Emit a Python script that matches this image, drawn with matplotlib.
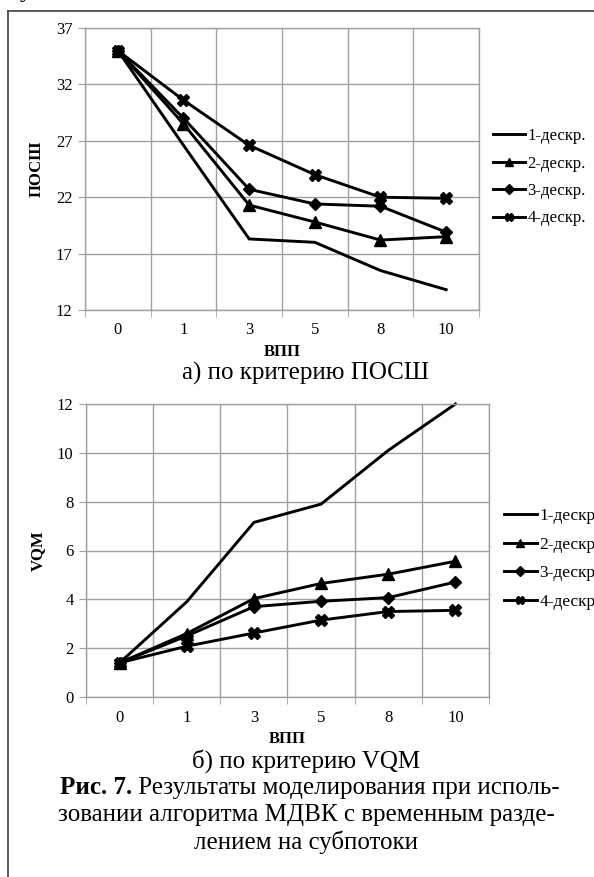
import matplotlib
matplotlib.use("Agg")
import matplotlib.pyplot as plt
from matplotlib.lines import Line2D

W, H = 594, 877
categories = ["0", "1", "3", "5", "8", "10"]
series_names = ["1-дескр.", "2-дескр.", "3-дескр.", "4-дескр."]

posh_1 = [35.0, 26.6, 18.3, 18.0, 15.5, 13.8]
posh_2 = [35.0, 28.5, 21.3, 19.8, 18.2, 18.5]
posh_3 = [35.0, 29.0, 22.7, 21.4, 21.2, 18.9]
posh_4 = [35.0, 30.6, 26.6, 24.0, 22.0, 21.9]

vqm_1 = [1.4, 3.9, 7.15, 7.9, 10.1, 12.0]
vqm_2 = [1.4, 2.6, 4.03, 4.65, 5.03, 5.56]
vqm_3 = [1.4, 2.5, 3.7, 3.92, 4.07, 4.71]
vqm_4 = [1.4, 2.08, 2.62, 3.15, 3.5, 3.55]

posh_ticks = [12, 17, 22, 27, 32, 37]
vqm_ticks = [0, 2, 4, 6, 8, 10, 12]

SERIF = ["Liberation Serif", "DejaVu Serif"]
plt.rcParams["font.family"] = SERIF

fig = plt.figure(figsize=(W / 100, H / 100), dpi=100)

def fx(px):
    return px / W

def fy(py):
    return 1 - py / H

markers = [None, "^", "D", "X"]
msizes = [0, 8, 6, 8]
GRID = "#a0a0a0"
FS = 12
CAP = 18

def make_axes(x0, x1, y0, y1, data, ticks, ylabel, legend_x, legend_y, leg_fs, leg_sp):
    ax = fig.add_axes([fx(x0), fy(y1), fx(x1 - x0), (y1 - y0) / H])
    xs = list(range(len(categories)))
    for vals, m, ms, name in zip(data, markers, msizes, series_names):
        ax.plot(xs, vals, color="black", lw=2.1, marker=m, markersize=ms,
                markeredgewidth=1.0, label=name, clip_on=False,
                solid_joinstyle="miter")
    ax.set_xlim(-0.5, len(categories) - 0.5)
    ax.set_ylim(ticks[0], ticks[-1])
    ax.set_yticks(ticks)
    ax.set_xticks(xs)
    ax.set_xticklabels(categories)
    ax.set_xticks([i - 0.5 for i in range(len(categories) + 1)], minor=True)
    ax.grid(True, which="major", axis="y", color=GRID, lw=1.0)
    ax.grid(True, which="minor", axis="x", color=GRID, lw=1.0)
    ax.set_axisbelow(True)
    for s in ax.spines.values():
        s.set_color(GRID)
        s.set_linewidth(1.0)
    ax.tick_params(axis="x", which="major", length=0, pad=9, labelsize=FS)
    ax.tick_params(axis="x", which="minor", length=5, color=GRID, direction="out")
    ax.tick_params(axis="y", which="major", length=5, color=GRID, pad=4, labelsize=FS)
    ax.set_xlabel("ВПП", fontweight="bold", fontsize=FS, labelpad=4)
    ax.set_ylabel(ylabel, fontweight="bold", fontsize=FS, labelpad=8)
    handles = [Line2D([0], [0], color="black", lw=2.1, marker=m, markersize=ms * 0.8 if ms else 0)
               for m, ms in zip(markers, msizes)]
    ax.legend(handles, series_names, loc="upper left",
              bbox_to_anchor=(fx(legend_x), fy(legend_y)),
              bbox_transform=fig.transFigure, frameon=False,
              fontsize=leg_fs, handlelength=1.9, handletextpad=0.15,
              labelspacing=leg_sp, borderpad=0, borderaxespad=0)
    return ax

make_axes(85, 479, 28, 310, [posh_1, posh_2, posh_3, posh_4], posh_ticks, "ПОСШ", 493, 128, 12, 0.69)
make_axes(86, 489, 404, 697, [vqm_1, vqm_2, vqm_3, vqm_4], vqm_ticks, "VQM", 504, 508, 12.5, 0.72)

fig.text(fx(306), fy(373), "а) по критерию ПОСШ", ha="center", va="center", fontsize=CAP)
fig.text(fx(306), fy(761), "б) по критерию VQM", ha="center", va="center", fontsize=CAP)

# first caption line with bold prefix
line1_bold = "Рис. 7."
line1_rest = " Результаты моделирования при исполь-"
tb = fig.text(0, fy(788), line1_bold, fontweight="bold", fontsize=CAP, va="center")
tr = fig.text(0, fy(788), line1_rest, fontsize=CAP, va="center")
fig.canvas.draw()
r = fig.canvas.get_renderer()
wb = tb.get_window_extent(r).width
wr = tr.get_window_extent(r).width
start = 310 - (wb + wr) / 2
tb.set_x(fx(start))
tr.set_x(fx(start + wb))
fig.text(fx(306), fy(815), "зовании алгоритма МДВК с временным разде-", ha="center", va="center", fontsize=CAP)
fig.text(fx(306), fy(842), "лением на субпотоки", ha="center", va="center", fontsize=CAP)

# page frame
fig.add_artist(Line2D([fx(8), fx(594)], [fy(11), fy(11)], color="#404040", lw=1.2))
fig.add_artist(Line2D([fx(8), fx(8)], [fy(11), fy(877)], color="#404040", lw=1.2))
fig.text(fx(20), fy(-3), "у", fontsize=CAP, va="baseline")

fig.savefig("out.png", dpi=100)
